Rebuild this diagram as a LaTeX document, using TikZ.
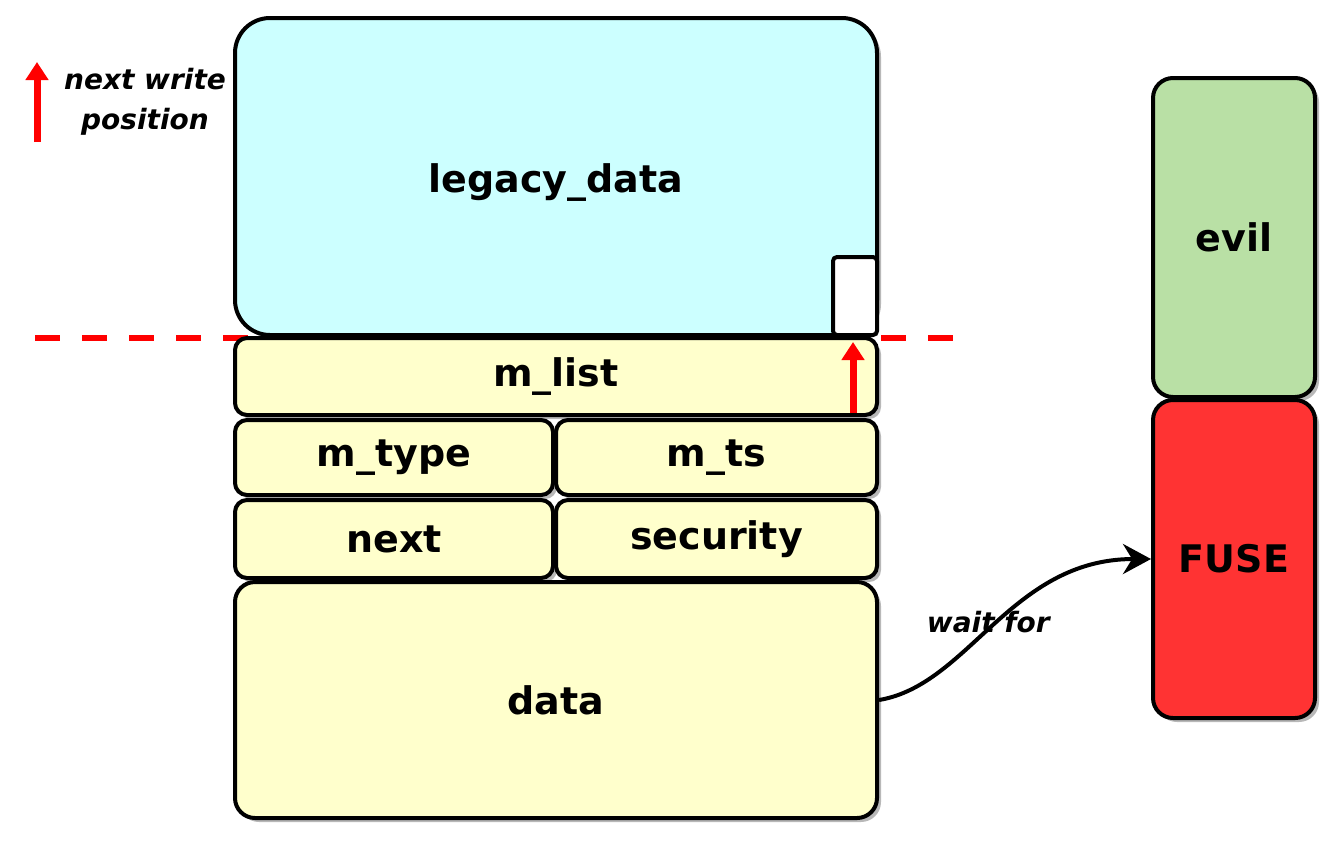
\documentclass[tikz,border=0pt]{standalone}
\usepackage{fontspec}
\setmainfont{DejaVu Sans}
\usepackage{tikz}
\usetikzlibrary{arrows.meta,shadows}

\definecolor{cyanfill}{HTML}{CCFFFF}
\definecolor{yelfill}{HTML}{FFFFCC}
\definecolor{grnfill}{HTML}{B9E0A5}
\definecolor{redfill}{HTML}{FF3333}

\tikzset{
  cell/.style={draw=black, line width=4pt, rounded corners=12pt, inner sep=0pt,
    fill=yelfill, font=\fontsize{38}{44}\selectfont\bfseries,
    drop shadow={shadow xshift=4pt, shadow yshift=-4pt, fill=black!28, opacity=1}},
  note/.style={font=\fontsize{28}{40}\selectfont\bfseries\itshape, align=center},
  redup/.style={red, line width=7pt, -{Triangle[length=18pt,width=22pt]}},
  waitarrow/.style={black, line width=4pt, -{Stealth[length=28pt,width=30pt]}}
}

\begin{document}
\begin{tikzpicture}[x=1pt, y=-1pt]
\useasboundingbox (0,0) rectangle (1337,844);

% write boundary
\draw[red, line width=6pt, dash pattern=on 25pt off 22pt] (35,338) -- (970,338);

% the buffer
\node[cell, fill=cyanfill, rounded corners=35pt, minimum width=642, minimum height=317] (legacy) at (556,176.5) {};
\node at (556,183) [font=\fontsize{38}{44}\selectfont\bfseries] (legacytext) {legacy\_data};
\node[draw, line width=4pt, fill=white, rounded corners=4pt, minimum width=44, minimum height=78, inner sep=0pt] (gap) at (855,296) {};
\node[cell, minimum width=642, minimum height=77] (mlist) at (556,376.5) {m\_list};
\node[cell, minimum width=318, minimum height=75] (mtype) at (394,457.5) {m\_type};
\node[cell, minimum width=321, minimum height=75] (mts) at (716.5,457.5) {m\_ts};
\node[cell, minimum width=318, minimum height=78] (next) at (394,539) {next};
\node[cell, minimum width=321, minimum height=78] (security) at (716.5,539) {security};
\node[cell, rounded corners=20pt, minimum width=642, minimum height=236] (data) at (556,700) {data};

% other side
\node[cell, fill=grnfill, rounded corners=20pt, minimum width=162, minimum height=319] (evil) at (1234,237.5) {evil};
\node[cell, fill=redfill, rounded corners=20pt, minimum width=162, minimum height=318] (fuse) at (1234,559) {FUSE};

% write position arrows
\coordinate (wtail) at (853,413);
\coordinate (whead) at (853,342);
\draw[redup] (wtail) -- (whead);
\coordinate (ltail) at (37,142);
\coordinate (lhead) at (37,62);
\draw[redup] (ltail) -- (lhead);
\node[note] (legend) at (145,102) {next write\\position};

\draw[waitarrow] (data.east) .. controls +(90,-15) and +(-140,0) .. (fuse.west)
  node[note, pos=0.5, xshift=-8pt, yshift=2pt] (waitlbl) {wait for};
\end{tikzpicture}
\end{document}
